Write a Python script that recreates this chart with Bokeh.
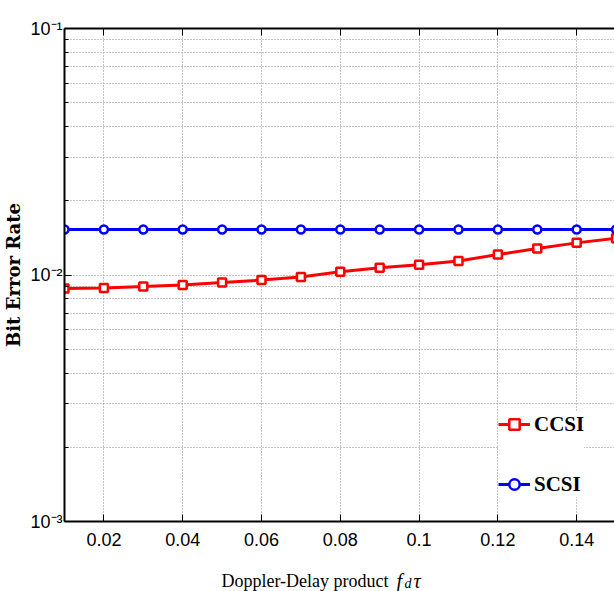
from bokeh.plotting import figure
from bokeh.layouts import column
from bokeh.models import (Range1d, LinearAxis, FixedTicker, Legend, LegendItem, Label,
                          CustomJSTickFormatter)
from bokeh.embed import file_html
from bokeh.resources import INLINE

# ---- data ----
fd_tau = [0.01, 0.02, 0.03, 0.04, 0.05, 0.06, 0.07, 0.08, 0.09, 0.10,
          0.11, 0.12, 0.13, 0.14, 0.15]
ber_ccsi = [0.00882, 0.00886, 0.00898, 0.00910, 0.00932, 0.00954, 0.00981, 0.0103,
            0.0107, 0.0110, 0.0114, 0.0121, 0.0128, 0.0135, 0.0141]
ber_scsi = [0.0153] * 15
x_ticks = [0.02, 0.04, 0.06, 0.08, 0.10, 0.12, 0.14]
x_tick_labels = {0.02: "0.02", 0.04: "0.04", 0.06: "0.06", 0.08: "0.08",
                 0.1: "0.1", 0.12: "0.12", 0.14: "0.14"}
y_ticks = [1e-3, 1e-2, 1e-1]
y_tick_labels = {1e-3: "10\u207b\u00b3", 1e-2: "10\u207b\u00b2", 1e-1: "10\u207b\u00b9"}
y_minor = [m * 10.0 ** e for e in (-3, -2) for m in range(2, 10)]
series_names = ["CCSI", "SCSI"]
x_label_main = "Doppler-Delay product"
x_label_sym = ["f", "d", "τ"]

TICK_FONT = "'Liberation Sans', sans-serif"
SERIF = "'Liberation Serif', serif"

p = figure(width=614, height=556, output_backend="svg", toolbar_location=None,
           x_axis_type="linear", y_axis_type="log",
           x_range=Range1d(0.01, 0.1496), y_range=Range1d(1e-3, 1e-1),
           min_border_left=63, min_border_right=0, min_border_top=28,
           min_border_bottom=35)
p.outline_line_color = None
p.background_fill_color = "white"
p.border_fill_color = "white"

# grids
p.xgrid.ticker = FixedTicker(ticks=x_ticks)
p.ygrid.ticker = FixedTicker(ticks=y_ticks, minor_ticks=y_minor)
for g in (p.xgrid, p.ygrid):
    g.grid_line_color = "#8c8c8c"
    g.grid_line_dash = "1 2"
    g.grid_line_width = 1
p.ygrid.minor_grid_line_color = "#8c8c8c"
p.ygrid.minor_grid_line_dash = "1 2"
p.ygrid.minor_grid_line_width = 1

# x axis
xa = p.xaxis[0]
xa.ticker = FixedTicker(ticks=x_ticks)
xa.major_label_overrides = x_tick_labels
xa.axis_line_width = 2
xa.major_tick_in = 7
xa.major_tick_out = 0
xa.minor_tick_line_color = None
xa.major_label_text_font = TICK_FONT
xa.major_label_text_font_size = "18px"
xa.major_label_text_color = "black"
xa.major_label_standoff = 11

# top axis (frame border with inward ticks, no labels)
top = LinearAxis(ticker=FixedTicker(ticks=x_ticks),
                 formatter=CustomJSTickFormatter(code="return ''"),
                 axis_line_width=2, major_tick_in=7, major_tick_out=0,
                 minor_tick_line_color=None, major_label_standoff=0)
p.add_layout(top, "above")

# y axis
ya = p.yaxis[0]
ya.ticker = FixedTicker(ticks=y_ticks, minor_ticks=y_minor)
ya.major_label_overrides = y_tick_labels
ya.axis_line_width = 2
ya.major_tick_in = 7
ya.major_tick_out = 0
ya.minor_tick_in = 4
ya.minor_tick_out = 0
ya.major_label_text_font = TICK_FONT
ya.major_label_text_font_size = "18px"
ya.major_label_text_color = "black"
ya.major_label_standoff = 2
ya.axis_label = "Bit Error Rate"
ya.axis_label_text_font = "'DejaVu Serif', serif"
ya.axis_label_text_font_style = "bold"
ya.axis_label_text_font_size = "18px"
ya.axis_label_text_color = "black"
ya.axis_label_standoff = 3

# series
r1 = p.line(fd_tau, ber_ccsi, line_color="#ff0000", line_width=3)
m1 = p.scatter(fd_tau, ber_ccsi, marker="square", size=8, line_color="#ff0000",
               line_width=2.5, fill_color="white")
r2 = p.line(fd_tau, ber_scsi, line_color="#0000ff", line_width=3)
m2 = p.scatter(fd_tau, ber_scsi, marker="circle", size=8, line_color="#0000ff",
               line_width=2.5, fill_color="white")

legend = Legend(items=[LegendItem(label=series_names[0], renderers=[r1, m1]),
                       LegendItem(label=series_names[1], renderers=[r2, m2])],
                location=(434, 24), orientation="vertical")
legend.label_text_font = SERIF
legend.label_text_font_style = "bold"
legend.label_text_font_size = "21px"
legend.label_text_color = "black"
legend.glyph_width = 32
legend.glyph_height = 26
legend.label_height = 26
legend.label_standoff = 4
legend.spacing = 34
legend.padding = 10
legend.margin = 0
legend.border_line_color = None
legend.background_fill_color = "white"
legend.background_fill_alpha = 1.0
p.add_layout(legend, "center")

# strip below the chart holding the x-axis title (mixed upright / italic text)
p2 = figure(width=614, height=35, output_backend="svg", toolbar_location=None,
            x_range=Range1d(0, 1), y_range=Range1d(0, 1),
            x_axis_location=None, y_axis_location=None,
            min_border_left=0, min_border_right=0, min_border_top=0,
            min_border_bottom=0)
p2.outline_line_color = None
p2.xgrid.visible = False
p2.ygrid.visible = False
p2.border_fill_color = "white"

lab_main = Label(x=324, y=11, x_units="screen", y_units="screen",
                 text=x_label_main, text_font=SERIF, text_font_size="18px",
                 text_color="black", text_align="right", text_baseline="alphabetic")
lab_f = Label(x=332, y=11, x_units="screen", y_units="screen", text=x_label_sym[0],
              text_font=SERIF, text_font_style="italic", text_font_size="20px",
              text_color="black", text_baseline="alphabetic")
lab_d = Label(x=340, y=8, x_units="screen", y_units="screen", text=x_label_sym[1],
              text_font=SERIF, text_font_style="italic", text_font_size="14px",
              text_color="black", text_baseline="alphabetic")
lab_t = Label(x=349, y=11, x_units="screen", y_units="screen", text=x_label_sym[2],
              text_font=SERIF, text_font_style="italic", text_font_size="20px",
              text_color="black", text_baseline="alphabetic")
for l in (lab_main, lab_f, lab_d, lab_t):
    p2.add_layout(l)

layout = column(p, p2, spacing=0)
open("out.html", "w").write(file_html(layout, INLINE))
